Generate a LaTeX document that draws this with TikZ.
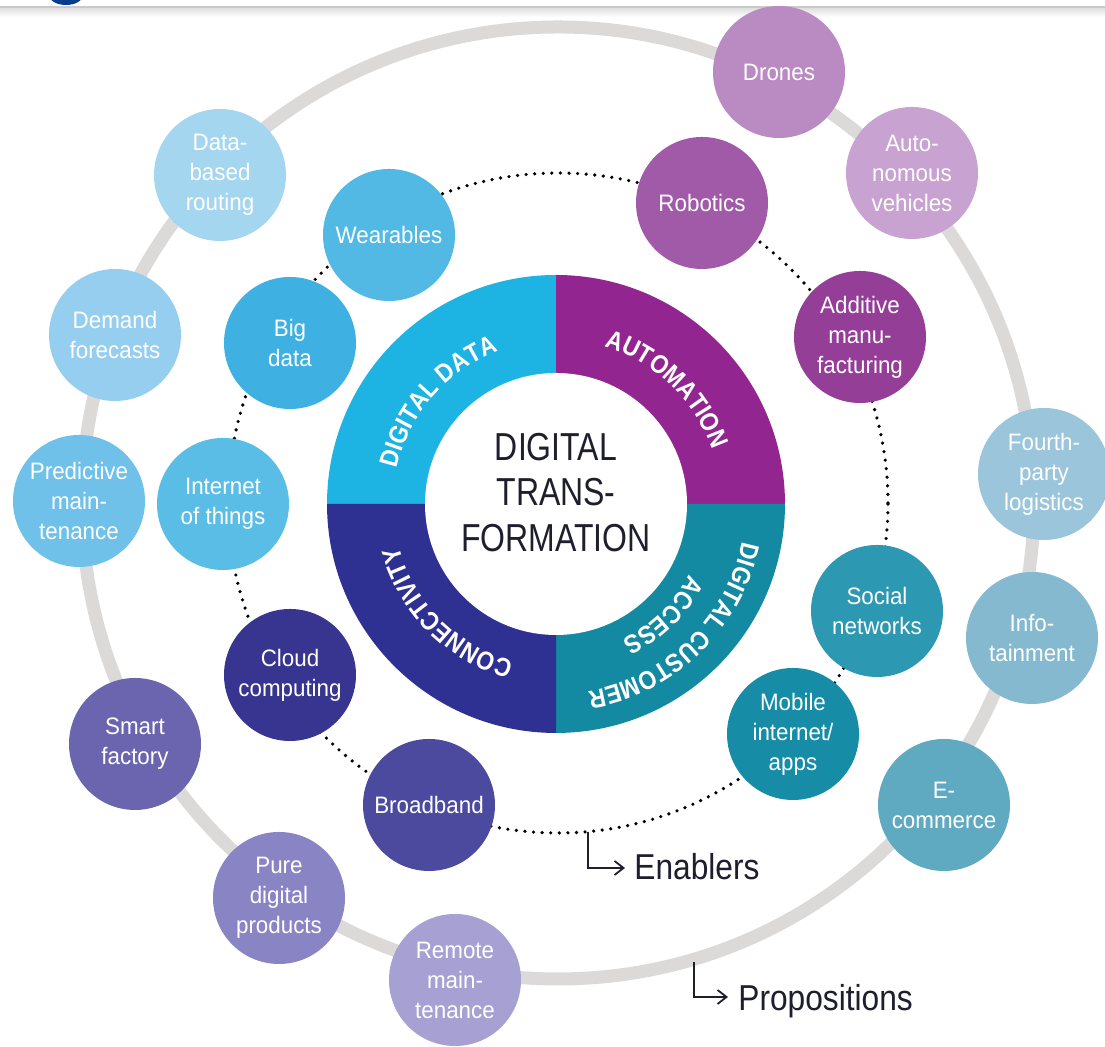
\documentclass[tikz,border=0pt]{standalone}
\usepackage{fontspec}
\setmainfont{Liberation Sans}
\newfontfamily\bubfont[FakeStretch=0.94]{Liberation Sans}
\newfontfamily\titlefont[FakeStretch=0.82]{Liberation Sans}
\newfontfamily\labfont[FakeStretch=0.88]{Liberation Sans}
\newfontfamily\ringfont[FakeStretch=0.88]{Liberation Sans}
\usetikzlibrary{decorations.text, arrows.meta, calc}

\definecolor{cRouting}{HTML}{A5D6F0}
\definecolor{cDemand}{HTML}{95CEEE}
\definecolor{cPredict}{HTML}{6FC1E9}
\definecolor{cWear}{HTML}{52B9E5}
\definecolor{cBig}{HTML}{3EB0E1}
\definecolor{cIoT}{HTML}{5ABDE6}
\definecolor{cData}{HTML}{1DB3E3}
\definecolor{cRobot}{HTML}{A05AA8}
\definecolor{cAdd}{HTML}{943E97}
\definecolor{cDrones}{HTML}{BA8BC3}
\definecolor{cAuto}{HTML}{C8A2D1}
\definecolor{cAutom}{HTML}{92258F}
\definecolor{cFourth}{HTML}{9AC5DB}
\definecolor{cInfo}{HTML}{84B9D0}
\definecolor{cEcom}{HTML}{5FA9C1}
\definecolor{cSocial}{HTML}{2D98B1}
\definecolor{cMobile}{HTML}{168CA7}
\definecolor{cDCA}{HTML}{138AA2}
\definecolor{cCloud}{HTML}{383590}
\definecolor{cBroad}{HTML}{4C4A9E}
\definecolor{cConn}{HTML}{2E3092}
\definecolor{cSmart}{HTML}{6B65B0}
\definecolor{cPure}{HTML}{8984C3}
\definecolor{cRemote}{HTML}{A6A1D2}
\definecolor{ringgray}{HTML}{DCDAD9}
\definecolor{logoblue}{HTML}{0A3C8E}
\definecolor{hdrgray}{HTML}{C9C9C9}
\definecolor{textdark}{HTML}{1E1E2C}

\newcommand\ringtext{\ringfont\bfseries\fontsize{13pt}{14pt}\selectfont}

\tikzset{
  bub/.style={circle, minimum size=66pt, inner sep=0pt, text=white, align=center,
    font=\bubfont\fontsize{11.9pt}{15pt}\selectfont},
  propring/.style={draw=ringgray, line width=6.5pt},
  enabring/.style={draw=black, line width=1.8pt, line cap=round, dash pattern=on 0pt off 4.3pt},
  lab/.style={font=\labfont\fontsize{18pt}{20pt}\selectfont, text=textdark, inner sep=0pt},
  arr/.style={draw=textdark, line width=0.9pt, -{Straight Barb[length=4.5pt, width=7pt]}},
  ringlabel/.style={decorate, decoration={text along path, text align=center, text color=white, text={#1}}}
}

\begin{document}
\begin{tikzpicture}[x=0.5pt, y=0.5pt]
\useasboundingbox (0,0) rectangle (1105,1047);
\fill[white] (0,0) rectangle (1105,1047);

% header
\begin{scope}
\clip (0,0) rectangle (1105,1047);
\shade[top color=gray!25, bottom color=white] (0,1030) rectangle (1105,1039);
\draw[hdrgray, line width=1pt] (0,1039.5) -- (1105,1039.5);
\fill[logoblue] (66,1052) ellipse [x radius=17, y radius=10];
\end{scope}

% rings
\draw[propring] (558,544) circle[radius=476];
\draw[enabring] (558,544) circle[radius=330];

% central ring quadrants
\fill[cData]  (556,543) -- ++(90:229)  arc[start angle=90,  end angle=180, radius=229] -- cycle;
\fill[cAutom] (556,543) -- ++(0:229)   arc[start angle=0,   end angle=90,  radius=229] -- cycle;
\fill[cDCA]   (556,543) -- ++(270:229) arc[start angle=270, end angle=360, radius=229] -- cycle;
\fill[cConn]  (556,543) -- ++(180:229) arc[start angle=180, end angle=270, radius=229] -- cycle;
\fill[white]  (556,543) circle[radius=131];

% ring texts
\path[ringlabel={|\ringtext|DIGITAL DATA}] ([shift={(556,543)}]184:163) arc[start angle=184, end angle=94, radius=163];
\path[ringlabel={|\ringtext|AUTOMATION}] ([shift={(556,543)}]91:165) arc[start angle=91, end angle=1, radius=165];
\path[ringlabel={|\ringtext|CONNECTIVITY}] ([shift={(556,543)}]270:163) arc[start angle=270, end angle=180, radius=163];
\path[ringlabel={|\ringtext|DIGITAL CUSTOMER}] ([shift={(556,543)}]-1:190) arc[start angle=-1, end angle=-91, radius=190];
\path[ringlabel={|\ringtext|ACCESS}] ([shift={(556,543)}]-1:151) arc[start angle=-1, end angle=-91, radius=151];

% title
\node[font=\titlefont\fontsize{19.5pt}{22.75pt}\selectfont, align=center, text=textdark, inner sep=0pt] (title) at (556,554.5) {DIGITAL\\TRANS-\\FORMATION};

% enablers
\node[bub, fill=cWear]   (wear)   at (389,812) {Wearables};
\node[bub, fill=cRobot]  (robot)  at (702,844) {Robotics};
\node[bub, fill=cAdd]    (addit)  at (860,710) {Additive\\manu-\\facturing};
\node[bub, fill=cSocial] (social) at (877,436) {Social\\networks};
\node[bub, fill=cMobile] (mobile) at (793,313) {Mobile\\internet/\\apps};
\node[bub, fill=cBroad]  (broad)  at (429,242) {Broadband};
\node[bub, fill=cCloud]  (cloud)  at (290,372) {Cloud\\computing};
\node[bub, fill=cIoT]    (iot)    at (223,543) {Internet\\of things};
\node[bub, fill=cBig]    (big)    at (290,704) {Big\\data};

% propositions
\node[bub, fill=cDrones]  (drones)  at (779,975) {Drones};
\node[bub, fill=cAuto]    (auto)    at (912,874) {Auto-\\nomous\\vehicles};
\node[bub, fill=cFourth]  (fourth)  at (1044,573) {Fourth-\\party\\logistics};
\node[bub, fill=cInfo]    (info)    at (1032,409) {Info-\\tainment};
\node[bub, fill=cEcom]    (ecom)    at (944,242) {E-\\commerce};
\node[bub, fill=cRemote]  (remote)  at (455,67) {Remote\\main-\\tenance};
\node[bub, fill=cPure]    (pure)    at (279,149) {Pure\\digital\\products};
\node[bub, fill=cSmart]   (smart)   at (135,303) {Smart\\factory};
\node[bub, fill=cPredict] (predict) at (79,546) {Predictive\\main-\\tenance};
\node[bub, fill=cDemand]  (demand)  at (115,712) {Demand\\forecasts};
\node[bub, fill=cRouting] (routing) at (220,872) {Data-\\based\\routing};

% legend labels
\coordinate (en0) at ([shift={(558,544)}]-84.8:330);
\coordinate (en1) at (625,179);
\node[lab, anchor=base west] (enab) at (634,167) {Enablers};
\draw[arr] (en0) |- (en1);

\coordinate (pr0) at ([shift={(558,544)}]-73.5:479);
\coordinate (pr1) at (728,50);
\node[lab, anchor=base west] (prop) at (738,36) {Propositions};
\draw[arr] (pr0) |- (pr1);
\end{tikzpicture}
\end{document}
